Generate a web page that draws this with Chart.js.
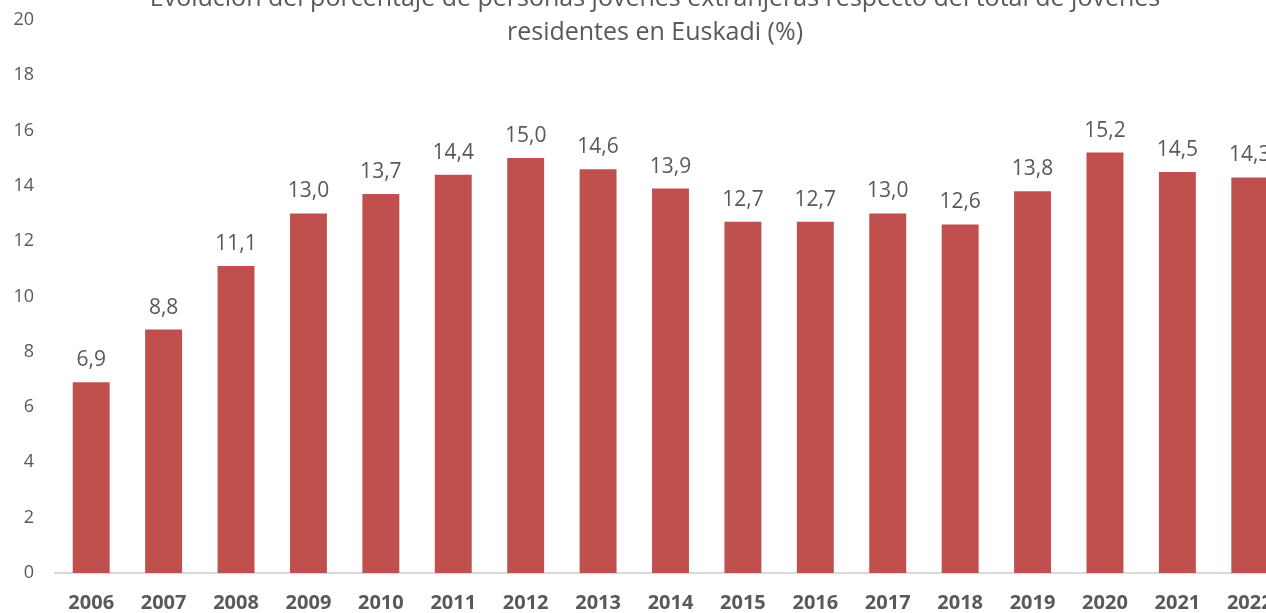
<!DOCTYPE html>
<html>
<head>
<meta charset="utf-8">
<script src="https://cdn.jsdelivr.net/npm/chart.js@4"></script>
<style>
  html, body { margin: 0; padding: 0; overflow: hidden; background: #fff; }
  body { width: 1266px; height: 613px; position: relative; }
  #wrap { position: absolute; left: 0; top: -12px; width: 1310px; height: 652px; }
  #title {
    position: absolute; left: 0; top: -21px; width: 1310px;
    text-align: center; font-family: "Open Sans", sans-serif;
    font-size: 25px; line-height: 34px; color: #595959;
  }
</style>
</head>
<body>
<div id="wrap"><canvas id="chart"></canvas></div>
<div id="title">Evolución del porcentaje de personas jóvenes extranjeras respecto del total de jóvenes<br>residentes en Euskadi (%)</div>
<script>
// data
const years = ['2006', '2007', '2008', '2009', '2010', '2011', '2012', '2013', '2014',
               '2015', '2016', '2017', '2018', '2019', '2020', '2021', '2022'];
const shareForeign = [6.9, 8.8, 11.1, 13.0, 13.7, 14.4, 15.0, 14.6, 13.9,
                      12.7, 12.7, 13.0, 12.6, 13.8, 15.2, 14.5, 14.3];
const yTicks = [0, 2, 4, 6, 8, 10, 12, 14, 16, 18, 20];

const grey = '#595959';

// value labels above bars
const barLabels = {
  id: 'barLabels',
  afterDatasetsDraw(chart) {
    const ctx = chart.ctx;
    const meta = chart.getDatasetMeta(0);
    ctx.save();
    ctx.font = '21px "Open Sans"';
    ctx.fillStyle = grey;
    ctx.textAlign = 'center';
    ctx.textBaseline = 'alphabetic';
    meta.data.forEach((bar, i) => {
      const txt = shareForeign[i].toFixed(1).replace('.', ',');
      ctx.fillText(txt, bar.x, bar.y - 16);
    });
    ctx.restore();
  }
};

const ctx = document.getElementById('chart').getContext('2d');
new Chart(ctx, {
  type: 'bar',
  data: {
    labels: years,
    datasets: [{
      data: shareForeign,
      backgroundColor: '#C0504D',
      categoryPercentage: 1,
      barPercentage: 0.51
    }]
  },
  options: {
    responsive: true,
    maintainAspectRatio: false,
    animation: false,
    layout: { padding: { left: 0, right: 24, top: 9, bottom: 7 } },
    plugins: { legend: { display: false }, tooltip: { enabled: false } },
    scales: {
      x: {
        grid: { display: false, drawTicks: false },
        border: { display: true, color: '#D9D9D9', width: 2 },
        ticks: {
          color: grey,
          padding: 18,
          maxRotation: 0,
          autoSkip: false,
          font: { family: 'Open Sans', size: 20, weight: 'bold' }
        }
      },
      y: {
        min: 0,
        max: 20,
        afterBuildTicks(scale) { scale.ticks = yTicks.map(v => ({ value: v })); },
        afterFit(scale) { scale.width = 55; },
        grid: { display: false, drawTicks: false },
        border: { display: false },
        ticks: {
          color: grey,
          padding: 21,
          font: { family: 'Open Sans', size: 18 }
        }
      }
    }
  },
  plugins: [barLabels]
});
</script>
</body>
</html>
